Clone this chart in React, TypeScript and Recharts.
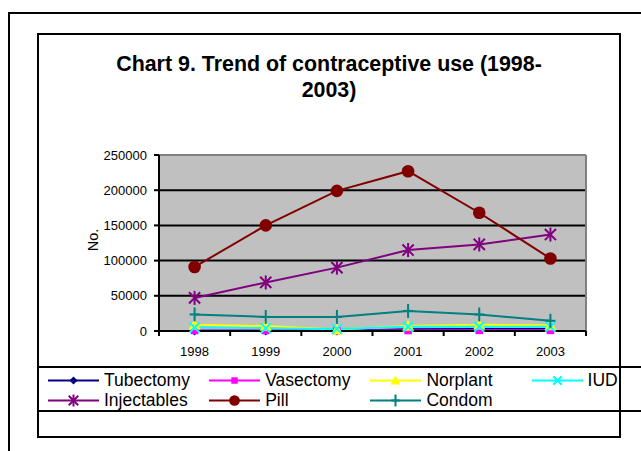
import React from 'react';
import { LineChart, Line, XAxis, YAxis, CartesianGrid, Legend } from 'recharts';

// ---- data ----
const years = ['1998', '1999', '2000', '2001', '2002', '2003'];
const tubectomy = [500, 400, 300, 2500, 3000, 3000];
const vasectomy = [800, 700, 600, 700, 900, 900];
const norplant = [9000, 7000, 2000, 7000, 9000, 8000];
const iud = [5000, 4000, 3000, 6000, 6000, 6000];
const injectables = [47000, 69000, 90000, 115000, 123000, 137000];
const pill = [91000, 150000, 199000, 227000, 168000, 103000];
const condom = [23500, 20000, 20000, 28500, 23500, 14500];

const yTicks = [0, 50000, 100000, 150000, 200000, 250000];
const gridValues = [50000, 100000, 150000, 200000];
const yMax = 250000;
const titleLines = ['Chart 9. Trend of contraceptive use (1998-', '2003)'];
const yAxisTitle = 'No.';

type MarkerKind = 'diamond' | 'square' | 'triangle' | 'cross' | 'star' | 'circle' | 'plus';

interface SeriesDef {
  key: string;
  name: string;
  color: string;
  marker: MarkerKind;
  values: number[];
}

const series: SeriesDef[] = [
  { key: 'tubectomy', name: 'Tubectomy', color: '#000080', marker: 'diamond', values: tubectomy },
  { key: 'vasectomy', name: 'Vasectomy', color: '#FF00FF', marker: 'square', values: vasectomy },
  { key: 'norplant', name: 'Norplant', color: '#FFFF00', marker: 'triangle', values: norplant },
  { key: 'iud', name: 'IUD', color: '#00FFFF', marker: 'cross', values: iud },
  { key: 'injectables', name: 'Injectables', color: '#800080', marker: 'star', values: injectables },
  { key: 'pill', name: 'Pill', color: '#800000', marker: 'circle', values: pill },
  { key: 'condom', name: 'Condom', color: '#008080', marker: 'plus', values: condom },
];

const data = years.map((year, i) => {
  const row: Record<string, string | number> = { year };
  series.forEach((s) => {
    row[s.key] = s.values[i];
  });
  return row;
});

// ---- layout ----
const W = 641;
const H = 451;
const MARGIN = { top: 155, right: 55, bottom: 90, left: 80 };
const Y_AXIS_W = 79;
const X_AXIS_H = 30;
const PLOT_W = W - MARGIN.left - MARGIN.right - Y_AXIS_W;
const BAND = PLOT_W / years.length;
const FONT = '"Liberation Sans", Arial, Helvetica, sans-serif';

function Marker({ kind, cx, cy, color, scale = 1 }: { kind: MarkerKind; cx: number; cy: number; color: string; scale?: number }) {
  const s = scale;
  switch (kind) {
    case 'diamond': {
      const r = 4.8 * s;
      return <polygon points={`${cx},${cy - r} ${cx + r},${cy} ${cx},${cy + r} ${cx - r},${cy}`} fill={color} />;
    }
    case 'square': {
      const r = 3.8 * s;
      return <rect x={cx - r} y={cy - r} width={2 * r} height={2 * r} fill={color} />;
    }
    case 'triangle': {
      const r = 6 * s;
      return <polygon points={`${cx},${cy - r} ${cx + r},${cy + r * 0.8} ${cx - r},${cy + r * 0.8}`} fill={color} />;
    }
    case 'cross': {
      const r = 5 * s;
      return (
        <g stroke={color} strokeWidth={2}>
          <line x1={cx - r} y1={cy - r} x2={cx + r} y2={cy + r} />
          <line x1={cx - r} y1={cy + r} x2={cx + r} y2={cy - r} />
        </g>
      );
    }
    case 'star': {
      const r = 7 * s;
      const d = r * 0.8;
      return (
        <g stroke={color} strokeWidth={2}>
          <line x1={cx} y1={cy - r} x2={cx} y2={cy + r} />
          <line x1={cx - d} y1={cy - d} x2={cx + d} y2={cy + d} />
          <line x1={cx - d} y1={cy + d} x2={cx + d} y2={cy - d} />
        </g>
      );
    }
    case 'circle':
      return <circle cx={cx} cy={cy} r={6.3 * s} fill={color} />;
    case 'plus': {
      const r = 7 * s;
      const h = 5 * s;
      return (
        <g stroke={color} strokeWidth={2}>
          <line x1={cx} y1={cy - r} x2={cx} y2={cy + r} />
          <line x1={cx - h} y1={cy} x2={cx + h} y2={cy} />
        </g>
      );
    }
    default:
      return null;
  }
}

// category labels sit mid-band; tick marks sit on the band edges
function XTick(props: any) {
  const { x, y, payload, index } = props;
  const last = index === years.length - 1;
  return (
    <g>
      <line x1={x - BAND / 2} x2={x - BAND / 2} y1={y} y2={y + 5} stroke="#000" strokeWidth={2} />
      {last && <line x1={x + BAND / 2} x2={x + BAND / 2} y1={y} y2={y + 5} stroke="#000" strokeWidth={2} />}
      <text x={x} y={y + 16} dy="0.71em" textAnchor="middle" fontSize={13} fill="#000" fontFamily={FONT}>
        {payload.value}
      </text>
    </g>
  );
}

function renderYTitle(props: any) {
  const vb = props.viewBox || {};
  const cx = vb.x + 12.5;
  const cy = vb.y + vb.height / 2 - 3;
  return (
    <text
      x={cx}
      y={cy}
      transform={`rotate(-90 ${cx} ${cy})`}
      textAnchor="middle"
      dominantBaseline="central"
      fontSize={14.5}
      fill="#000"
      fontFamily={FONT}
    >
      {yAxisTitle}
    </text>
  );
}

function renderLegend(props: any) {
  const payload: any[] = props.payload || [];
  const items = series.map((s) => {
    const entry = payload.find((p) => p.dataKey === s.key || p.value === s.name);
    return { s, label: entry ? entry.value : s.name, color: entry ? entry.color : s.color };
  });
  return (
    <div
      style={{
        display: 'grid',
        gridTemplateColumns: 'repeat(4, 161.2px)',
        paddingLeft: 11,
        fontFamily: FONT,
        fontSize: 17.5,
        lineHeight: '20px',
        color: '#000',
      }}
    >
      {items.map(({ s, label, color }) => (
        <div key={s.key} style={{ display: 'flex', alignItems: 'flex-start', height: 20, whiteSpace: 'nowrap' }}>
          <svg width={51} height={20} style={{ display: 'block', flex: 'none' }}>
            <line x1={0} x2={51} y1={10.5} y2={10.5} stroke={color} strokeWidth={2} />
            <Marker kind={s.marker} cx={25.5} cy={10.5} color={color} scale={0.85} />
          </svg>
          <span style={{ marginLeft: 5 }}>{label}</span>
        </div>
      ))}
    </div>
  );
}

export default function App() {
  return (
    <div
      style={{
        position: 'absolute',
        left: 0,
        top: 0,
        width: W,
        height: H,
        overflow: 'hidden',
        background: '#fff',
        fontFamily: FONT,
      }}
    >
      {/* page frame */}
      <div
        style={{
          position: 'absolute',
          left: 8,
          top: 12,
          width: 700,
          height: 500,
          borderLeft: '2px solid #000',
          borderTop: '2px solid #000',
        }}
      />
      {/* chart frame */}
      <div
        style={{
          position: 'absolute',
          left: 37,
          top: 33,
          width: 584,
          height: 405,
          border: '2px solid #000',
          boxSizing: 'border-box',
        }}
      />
      {/* legend frame */}
      <div
        style={{
          position: 'absolute',
          left: 37,
          top: 366,
          width: 700,
          height: 46,
          borderTop: '2px solid #000',
          borderBottom: '2px solid #000',
          borderLeft: '2px solid #000',
          boxSizing: 'border-box',
        }}
      />
      {/* title */}
      <div
        style={{
          position: 'absolute',
          left: 37,
          top: 50.6,
          width: 584,
          textAlign: 'center',
          fontWeight: 'bold',
          fontSize: 21.4,
          lineHeight: '26px',
          color: '#000',
        }}
      >
        {titleLines.map((line) => (
          <div key={line}>{line}</div>
        ))}
      </div>
      <div style={{ position: 'absolute', left: 0, top: 0 }}>
        <LineChart width={W} height={H} data={data} margin={MARGIN}>
          <CartesianGrid vertical={false} horizontalValues={gridValues} stroke="#000" strokeWidth={2} fill="#C0C0C0" />
          {/* grey frame along the top and right of the plot area */}
          <CartesianGrid
            horizontalValues={[yMax]}
            verticalCoordinatesGenerator={({ offset }: any) => [offset.left + offset.width]}
            stroke="#808080"
            strokeWidth={2}
          />
          <XAxis
            dataKey="year"
            height={X_AXIS_H}
            interval={0}
            padding={{ left: BAND / 2, right: BAND / 2 }}
            tickSize={0}
            tickMargin={0}
            tickLine={false}
            axisLine={{ stroke: '#000', strokeWidth: 2 }}
            tick={<XTick />}
          />
          <YAxis
            type="number"
            domain={[0, yMax]}
            ticks={yTicks}
            interval={0}
            width={Y_AXIS_W}
            tickSize={5}
            tickMargin={7}
            axisLine={{ stroke: '#000', strokeWidth: 2 }}
            tickLine={{ stroke: '#000', strokeWidth: 2 }}
            tick={{ fontSize: 13, fill: '#000', fontFamily: FONT }}
            label={{ value: yAxisTitle, content: renderYTitle }}
          />
          <Legend
            layout="horizontal"
            verticalAlign="middle"
            align="center"
            wrapperStyle={{ left: 37, top: 369.5, width: 584 }}
            content={renderLegend}
          />
          {series.map((s) => (
            <Line
              key={s.key}
              type="linear"
              dataKey={s.key}
              name={s.name}
              stroke={s.color}
              strokeWidth={2}
              isAnimationActive={false}
              activeDot={false}
              dot={(p: any) => (
                <Marker key={`${s.key}-${p.index}`} kind={s.marker} cx={p.cx} cy={p.cy} color={s.color} />
              )}
            />
          ))}
        </LineChart>
      </div>
    </div>
  );
}
